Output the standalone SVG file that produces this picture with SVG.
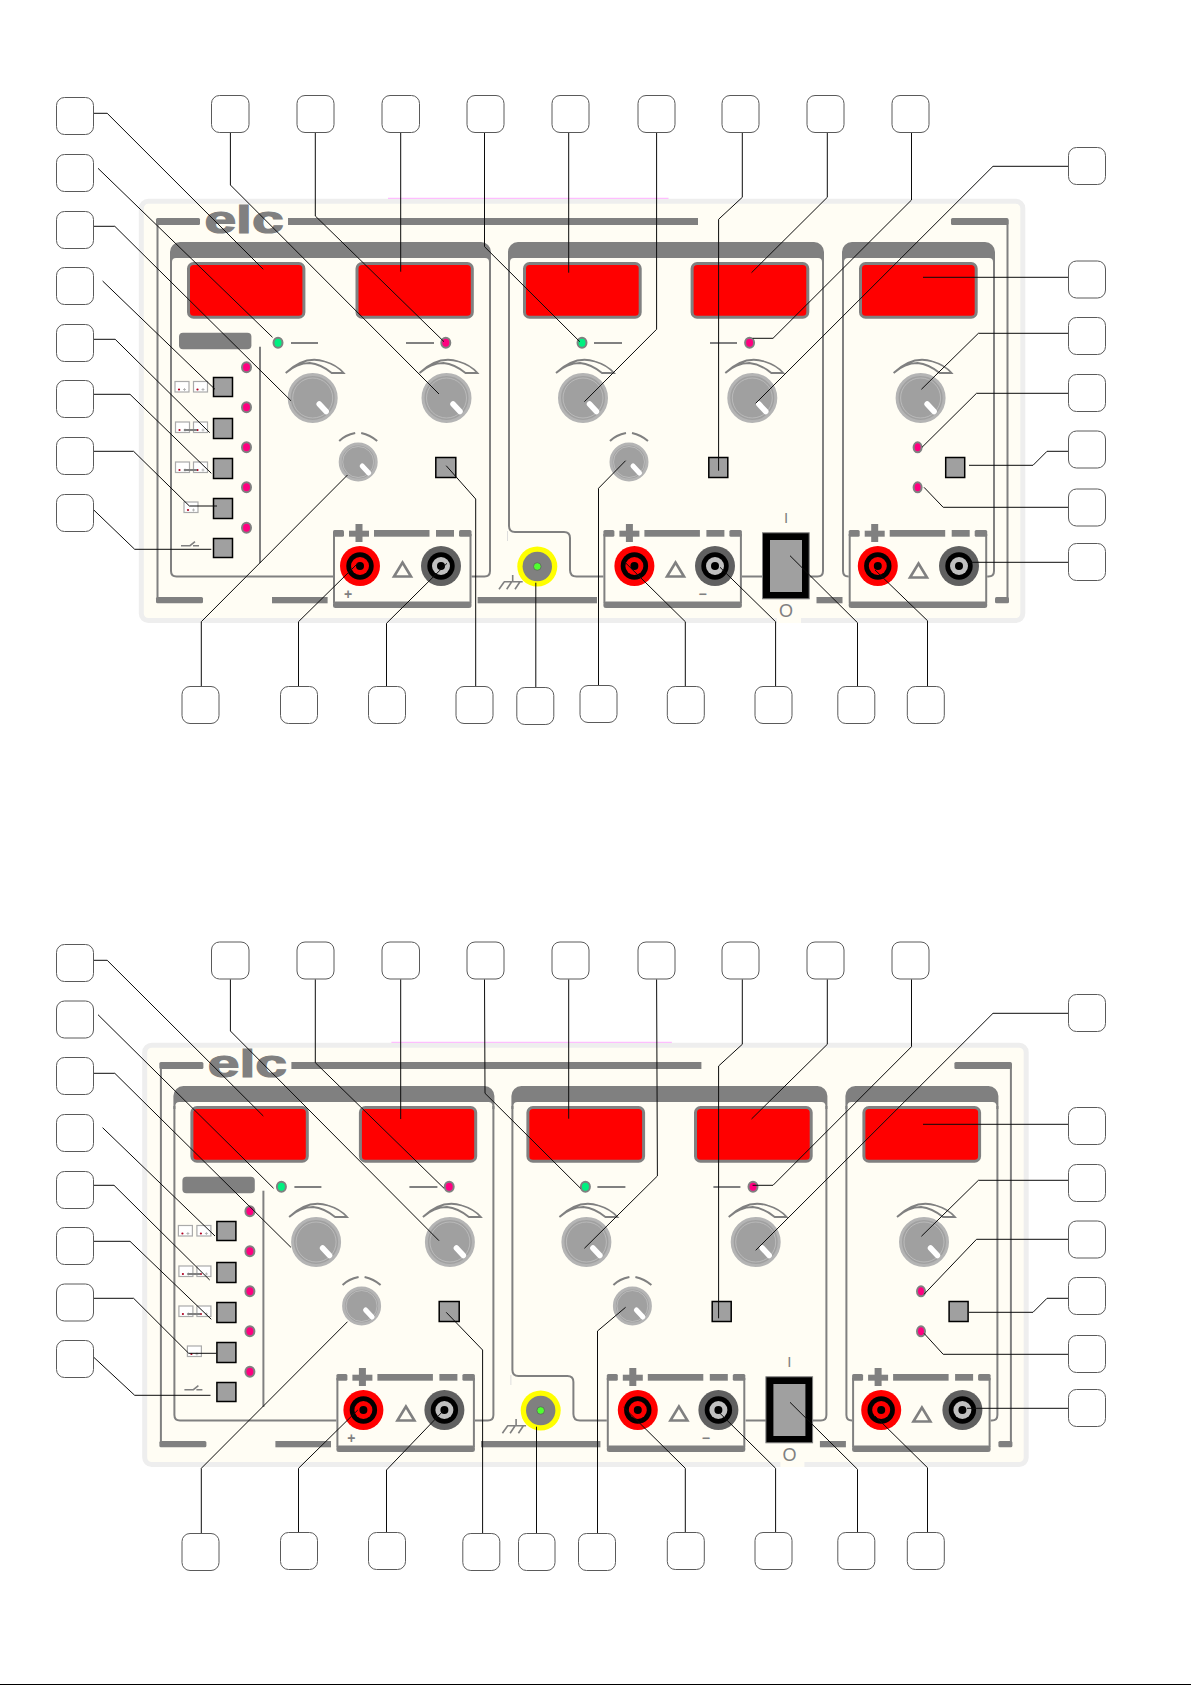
<svg xmlns="http://www.w3.org/2000/svg" xmlns:xlink="http://www.w3.org/1999/xlink" width="1191" height="1685" viewBox="0 0 1191 1685">
<style>
.lb{fill:#fff;stroke:#5a5a5a;stroke-width:1}
.c{fill:none;stroke:#0c0c0c;stroke-width:1}
.g{fill:#808080}
.l{fill:none;stroke:#808080;stroke-width:2}
.disp{fill:#f00;stroke:#808080;stroke-width:3}
.btn{fill:#a0a0a0;stroke:#000;stroke-width:1.5}
.pk{fill:#ff0080;stroke:#808080;stroke-width:2}
.gn{fill:#00f080;stroke:#808080;stroke-width:2}
.t{font-family:"Liberation Sans",Arial,sans-serif;fill:#808080;text-anchor:middle}
</style>
<defs>
<g id="knob"><circle r="23.5" fill="#a0a0a0" stroke="#b4b4b4" stroke-width="3"/><circle r="20" fill="none" stroke="#c4c4c4" stroke-width=".7"/><line x1="6.5" y1="6" x2="13.5" y2="13.5" stroke="#fff" stroke-width="5.5" stroke-linecap="round"/><path d="M-27-25Q-8-43 12-36.5Q24-33 31-25L19-25Q8-34-3-35Q-16-35-27-25Z" fill="#fffdf4" stroke="#808080" stroke-width="1.8"/></g>
<g id="sknob"><circle r="18" fill="#a0a0a0" stroke="#b4b4b4" stroke-width="3"/><circle r="15.5" fill="none" stroke="#c4c4c4" stroke-width=".7"/><line x1="4" y1="4" x2="10.5" y2="11" stroke="#fff" stroke-width="5" stroke-linecap="round"/><path d="M-19-21Q-13-27-3-29M3-29Q12-27 19-21" fill="none" stroke="#808080" stroke-width="2"/></g>
<g id="tr"><circle r="20" fill="#f00"/><circle r="13.7" fill="#000"/><circle r="9" fill="#f00"/><circle r="4" fill="#000"/></g>
<g id="tb"><circle r="20" fill="#606060"/><circle r="13.7" fill="#000"/><circle r="9" fill="#c0c0c0"/><circle r="4" fill="#000"/></g>
<g id="sb"><rect width="14" height="10.5" fill="#fff" stroke="#aaa" stroke-width="1.2"/><circle cx="4" cy="8" r="1.1" fill="#b00020"/><path d="M8 8h3M9.5 6.5v3" stroke="#aaa" stroke-width=".8"/></g>
<path id="tri" d="M9.5 2L18 16H1Z" fill="none" stroke="#808080" stroke-width="2.6"/>
<g id="tp"><rect width="138.5" height="78" fill="#fffdf4"/><path d="M1 4V73M137.5 4V73" stroke="#808080" stroke-width="2"/><rect y="71.5" width="138.5" height="6.5" rx="2.5" class="g"/><rect width="11" height="6.7" rx="1.5" class="g"/><rect x="41" width="55.5" height="6.7" class="g"/><rect x="103" width="18" height="6.7" class="g"/><rect x="126" width="12.5" height="6.7" rx="1.5" class="g"/><rect x="16" y=".7" width="20" height="6" class="g"/><rect x="22.5" y="-6" width="7" height="18" class="g"/></g>
<g id="body">
<rect x="141.3" y="201.2" width="881.5" height="419.3" rx="7" fill="#fffdf4" stroke="#eee" stroke-width="5"/>
<path d="M388 198.3H668.5" stroke="#ffb0ff" stroke-width="1"/>
<rect x="156" y="218" width="44" height="7" rx="1.5" class="g"/><rect x="288" y="218" width="410" height="7" class="g"/><rect x="951" y="218" width="57.5" height="7" rx="1.5" class="g"/>
<path d="M157.5 220V600M1007.5 220V600" class="l" stroke-width="2.5"/>
<rect x="156" y="597" width="47" height="6.3" rx="1.5" class="g"/><rect x="272" y="597" width="55.6" height="6.3" class="g"/><rect x="477.6" y="597" width="119.4" height="6.3" class="g"/><rect x="816.5" y="597" width="26" height="6.3" class="g"/><rect x="995" y="597" width="14" height="6.3" rx="1.5" class="g"/>
<path class="g" d="M170 265V252a10 10 0 0 1 10-10H481a10 10 0 0 1 10 10V265H489V262q0-4-4-4H176q-4 0-4 4V265Z"/>
<path class="g" d="M508 265V252a10 10 0 0 1 10-10H814a10 10 0 0 1 10 10V265H822V262q0-4-4-4H514q-4 0-4 4V265Z"/>
<path class="g" d="M842 265V252a10 10 0 0 1 10-10H985a10 10 0 0 1 10 10V265H993V262q0-4-4-4H848q-4 0-4 4V265Z"/>
<path class="l" d="M171 262V571q0 5.5 5.5 5.5H335M490 262V571q0 5.5-5.5 5.5H470"/>
<path class="l" d="M509 262V526q0 6 6 6H564q6 0 6 6V570q0 6.5 6.5 6.5H605M823 262V571q0 5.5-5.5 5.5H742"/>
<path class="l" d="M843 262V571q0 5.5 5.5 5.5H851M994 262V571q0 5.5-5.5 5.5H985"/>
<path d="M507.5 531V541" stroke="#ddd" stroke-width="1"/>
<rect x="188.5" y="263.5" width="115.4" height="53.7" rx="5" class="disp"/><rect x="357" y="263.5" width="115.3" height="53.7" rx="5" class="disp"/><rect x="524.5" y="263.5" width="115.7" height="53.7" rx="5" class="disp"/><rect x="692.1" y="263.5" width="115.7" height="53.7" rx="5" class="disp"/><rect x="860.5" y="263.5" width="115.7" height="53.7" rx="5" class="disp"/>
<rect x="179" y="332.7" width="72.4" height="16.6" rx="4" class="g"/>
<ellipse cx="278" cy="342.7" rx="4.5" ry="5" class="gn"/><ellipse cx="582" cy="342.7" rx="4.5" ry="5" class="gn"/>
<ellipse cx="445.8" cy="342.7" rx="4.5" ry="5" class="pk"/><ellipse cx="749.6" cy="342.7" rx="4.5" ry="5" class="pk"/>
<path class="l" d="M291 343H318M406 343H434M594 343H622M710 343H737"/>
<ellipse cx="246.5" cy="367.3" rx="4.5" ry="5" class="pk"/><ellipse cx="246.5" cy="407.3" rx="4.5" ry="5" class="pk"/><ellipse cx="246.5" cy="447.3" rx="4.5" ry="5" class="pk"/><ellipse cx="246.5" cy="487.3" rx="4.5" ry="5" class="pk"/><ellipse cx="246.5" cy="527.7" rx="4.5" ry="5" class="pk"/>
<ellipse cx="917.6" cy="447.3" rx="4" ry="5" class="pk"/><ellipse cx="917.6" cy="487.3" rx="4" ry="5" class="pk"/>
<path class="l" d="M260 346.7V563"/>
<use href="#sb" x="175" y="381.5"/><use href="#sb" x="193.5" y="381.5"/><use href="#sb" x="175.5" y="422"/><use href="#sb" x="193.5" y="422"/><use href="#sb" x="175.5" y="462"/><use href="#sb" x="193.5" y="462"/><use href="#sb" x="184" y="502"/>
<path class="l" d="M184 430H197M184 470H197"/>
<path d="M181 545.7H190L195 541.7M193 545.7H199" fill="none" stroke="#808080" stroke-width="1.6"/>
<rect x="213.5" y="377.5" width="19" height="19" class="btn"/><rect x="213.5" y="418.5" width="19" height="20" class="btn"/><rect x="213.5" y="458.5" width="19" height="20" class="btn"/><rect x="213.5" y="498.5" width="19" height="20" class="btn"/><rect x="213.5" y="538.5" width="19" height="19" class="btn"/>
<rect x="435.8" y="457.5" width="20" height="20" class="btn"/><rect x="708.8" y="457.5" width="19" height="20" class="btn"/><rect x="945.7" y="457.5" width="19" height="20" class="btn"/>
<use href="#knob" x="312.7" y="398"/><use href="#knob" x="446.5" y="398"/><use href="#knob" x="583" y="398"/><use href="#knob" x="752.3" y="398"/><use href="#knob" x="920.6" y="398"/>
<use href="#sknob" x="358.2" y="462"/><use href="#sknob" x="629" y="462"/>
<use href="#tp" x="333" y="530"/><use href="#tp" x="603.4" y="530"/><use href="#tp" x="848.7" y="530"/>
<use href="#tr" x="360" y="566"/><use href="#tb" x="441" y="566"/><use href="#tr" x="634.4" y="566"/><use href="#tb" x="715" y="566"/><use href="#tr" x="877.8" y="566"/><use href="#tb" x="959" y="566"/>
<use href="#tri" x="393" y="560.5"/><use href="#tri" x="666" y="560.5"/><use href="#tri" x="909" y="561.5"/>
<circle cx="537.3" cy="566.5" r="20" fill="#ff0"/><circle cx="537.3" cy="566.5" r="14.7" fill="#808080"/><circle cx="537.3" cy="566.5" r="3.8" fill="#50ff30" stroke="#606060" stroke-width=".8"/>
<path d="M512.7 575V581.7M504 581.7H522.7M504.3 581.7L499 589.3M511.7 581.7L506.7 589.3M520 581.7L515 589.3" fill="none" stroke="#808080" stroke-width="1.6"/>
<rect x="762.5" y="532.8" width="46.7" height="66" fill="#000" stroke="#808080" stroke-width="1"/><rect x="770" y="540" width="32" height="52" fill="#a0a0a0"/>
<rect x="777" y="612" width="24" height="11" fill="#fffdf4"/>
</g>
</defs>
<rect id="edge-line" x="0" y="1684" width="1191" height="1" fill="#000"/>
<g id="panel-a">
<use href="#body"/>
<text class="t" font-weight="bold" font-size="38" stroke="#808080" stroke-width="1.2" transform="translate(244,233) scale(1.5,1)">elc</text>
<text class="t" font-weight="bold" font-size="14" x="348" y="598.8">+</text>
<text class="t" font-weight="bold" font-size="14" x="702.5" y="598.8">−</text>
<text class="t" font-size="15" x="786" y="522.7">I</text>
<text class="t" font-size="18" x="786" y="617">O</text>
</g>
<g id="panel-b" transform="translate(3.4,844)">
<use href="#body"/>
<text class="t" font-weight="bold" font-size="38" stroke="#808080" stroke-width="1.2" transform="translate(244,233) scale(1.5,1)">elc</text>
<text class="t" font-weight="bold" font-size="14" x="348" y="598.8">+</text>
<text class="t" font-weight="bold" font-size="14" x="702.5" y="598.8">−</text>
<text class="t" font-size="15" x="786" y="522.7">I</text>
<text class="t" font-size="18" x="786" y="617">O</text>
</g>
<g id="connectors">
<polyline class="c" points="93.8,113.3 107.2,113.3 263.3,269.3"/>
<polyline class="c" points="98,168.3 272.5,337.3"/>
<polyline class="c" points="93.8,226.3 114.8,226.3 290.9,400.7"/>
<polyline class="c" points="102.6,281 215,389.3"/>
<polyline class="c" points="93.8,339.3 115.2,339.3 209.7,432.7"/>
<polyline class="c" points="93.8,394.3 130,394.3 211.3,473.3"/>
<polyline class="c" points="93.8,451.3 133.6,451.3 189.4,506 217,506"/>
<polyline class="c" points="93.8,510 134.7,549.3 211.3,549.3"/>
<polyline class="c" points="230.4,132.3 230.4,185 439,394"/>
<polyline class="c" points="315.3,132.3 315.3,216 444,341.7"/>
<polyline class="c" points="400.7,132.3 400.7,271.7"/>
<polyline class="c" points="484.5,132.3 484.5,246.7 579.8,341.7"/>
<polyline class="c" points="568.7,132.3 568.7,272.7"/>
<polyline class="c" points="656.6,132.3 656.6,329.3 584.4,401.7"/>
<polyline class="c" points="742.3,132.3 742.3,197.3 718.6,219.3 718.6,470.7"/>
<polyline class="c" points="827.3,132.3 827.3,197.3 751.5,272.7"/>
<polyline class="c" points="911.5,132.3 911.5,200 773,338.3 752.6,338.3"/>
<polyline class="c" points="1068.4,166.3 993,166.3 755.7,403.3"/>
<polyline class="c" points="1068.4,277.3 923,277.3"/>
<polyline class="c" points="1068.4,333.3 978.4,333.3 921.4,389.3"/>
<polyline class="c" points="1068.4,393.3 976.5,393.3 922,447.3"/>
<polyline class="c" points="1068.4,451.3 1047,451.3 1033,465.3 969,465.3"/>
<polyline class="c" points="1068.4,507.3 943.2,507.3 924,487.3"/>
<polyline class="c" points="1068.4,562.3 967,562.3"/>
<polyline class="c" points="201.3,686.3 201.3,621.7 347.5,475"/>
<polyline class="c" points="298.5,686.3 298.5,621.7 357.8,563.3"/>
<polyline class="c" points="386.5,686.3 386.5,623.3 447,563.3"/>
<polyline class="c" points="475.7,686.3 475.7,499 446.2,465.7"/>
<polyline class="c" points="535.8,687.3 535.8,582.7"/>
<polyline class="c" points="598.5,685 598.5,488.3 625.6,460.7"/>
<polyline class="c" points="685.3,686.3 685.3,621.7 623.7,561"/>
<polyline class="c" points="775.6,686.3 775.6,621.7 720,567.3"/>
<polyline class="c" points="857.5,686.3 857.5,622.7 790,555.7"/>
<polyline class="c" points="927.5,686.3 927.5,620.7 875,570"/>
<polyline class="c" points="93.8,960.3 107.2,960.3 263.3,1116"/>
<polyline class="c" points="98,1014.7 273.6,1188.3"/>
<polyline class="c" points="93.8,1073.3 114.8,1073.3 290.9,1247.3"/>
<polyline class="c" points="102.6,1127.7 215,1236"/>
<polyline class="c" points="93.8,1185.3 114,1185.3 209.7,1280"/>
<polyline class="c" points="93.8,1241.3 130,1241.3 211.3,1319.3"/>
<polyline class="c" points="93.8,1298.3 133.6,1298.3 188.7,1353.3 216.2,1353.3"/>
<polyline class="c" points="93.8,1357.3 134.7,1395.3 210.5,1395.3"/>
<polyline class="c" points="230.4,979.3 230.4,1031 439,1240.7"/>
<polyline class="c" points="315.3,979.3 315.3,1062.7 444,1188.3"/>
<polyline class="c" points="400.7,979.3 400.7,1119"/>
<polyline class="c" points="484.5,979.3 485,1093.3 580.5,1188.3"/>
<polyline class="c" points="568.7,979.3 568.7,1118.7"/>
<polyline class="c" points="656.6,979.3 657.4,1176 584.4,1248.3"/>
<polyline class="c" points="742.3,979.3 742.3,1044.3 718.6,1066 718.6,1318.3"/>
<polyline class="c" points="827.3,979.3 827.3,1044.3 751.5,1119"/>
<polyline class="c" points="911.5,979.3 911.5,1046.7 773,1185.3 752.6,1185.3"/>
<polyline class="c" points="1068.4,1013.3 993,1013.3 755.7,1250.3"/>
<polyline class="c" points="1068.4,1124.3 923,1124.3"/>
<polyline class="c" points="1068.4,1180.3 978.4,1180.3 921.4,1236.3"/>
<polyline class="c" points="1068.4,1239.3 976.5,1239.3 924,1294.3"/>
<polyline class="c" points="1068.4,1298.3 1047,1298.3 1033,1312.3 969,1312.3"/>
<polyline class="c" points="1068.4,1354.3 943.2,1354.3 924,1333.3"/>
<polyline class="c" points="1068.4,1408.3 967,1408.3"/>
<polyline class="c" points="201.3,1533.3 201.3,1468.3 347.5,1321.7"/>
<polyline class="c" points="298.5,1532.7 298.5,1468.3 357.8,1410"/>
<polyline class="c" points="386.5,1532.7 386.5,1470 444,1410"/>
<polyline class="c" points="482.6,1533.3 482.6,1350 446.2,1312.3"/>
<polyline class="c" points="536.5,1533.3 536.5,1426.7"/>
<polyline class="c" points="597.5,1533.3 597.5,1331 625.6,1307.3"/>
<polyline class="c" points="685.3,1532.7 685.3,1468.3 623.7,1407.3"/>
<polyline class="c" points="775.6,1532.7 775.6,1468.3 720,1413.3"/>
<polyline class="c" points="857.5,1532.7 857.5,1469.3 790,1402.3"/>
<polyline class="c" points="927.5,1532.7 927.5,1467.7 875,1416"/>
</g>
<g id="labels-a">
<g id="a-l1"><rect class="lb" x="56.5" y="97.5" width="37" height="37" rx="8"/></g>
<g id="a-l2"><rect class="lb" x="56.5" y="154.5" width="37" height="37" rx="8"/></g>
<g id="a-l3"><rect class="lb" x="56.5" y="211.5" width="37" height="37" rx="8"/></g>
<g id="a-l4"><rect class="lb" x="56.5" y="267.5" width="37" height="37" rx="8"/></g>
<g id="a-l5"><rect class="lb" x="56.5" y="324.5" width="37" height="37" rx="8"/></g>
<g id="a-l6"><rect class="lb" x="56.5" y="380.5" width="37" height="37" rx="8"/></g>
<g id="a-l7"><rect class="lb" x="56.5" y="437.5" width="37" height="37" rx="8"/></g>
<g id="a-l8"><rect class="lb" x="56.5" y="494.5" width="37" height="37" rx="8"/></g>
<g id="a-t1"><rect class="lb" x="211.5" y="95.5" width="37.5" height="37" rx="8"/></g>
<g id="a-t2"><rect class="lb" x="297" y="95.5" width="37" height="37" rx="8"/></g>
<g id="a-t3"><rect class="lb" x="382" y="95.5" width="37.5" height="37" rx="8"/></g>
<g id="a-t4"><rect class="lb" x="467" y="95.5" width="37" height="37" rx="8"/></g>
<g id="a-t5"><rect class="lb" x="552" y="95.5" width="37" height="37" rx="8"/></g>
<g id="a-t6"><rect class="lb" x="638" y="95.5" width="37" height="37" rx="8"/></g>
<g id="a-t7"><rect class="lb" x="722" y="95.5" width="37" height="37" rx="8"/></g>
<g id="a-t8"><rect class="lb" x="807" y="95.5" width="37" height="37" rx="8"/></g>
<g id="a-t9"><rect class="lb" x="892" y="95.5" width="37" height="37" rx="8"/></g>
<g id="a-r1"><rect class="lb" x="1068.5" y="147.5" width="37" height="37" rx="8"/></g>
<g id="a-r2"><rect class="lb" x="1068.5" y="261" width="37" height="37" rx="8"/></g>
<g id="a-r3"><rect class="lb" x="1068.5" y="317.5" width="37" height="37" rx="8"/></g>
<g id="a-r4"><rect class="lb" x="1068.5" y="374.5" width="37" height="37" rx="8"/></g>
<g id="a-r5"><rect class="lb" x="1068.5" y="431" width="37" height="37" rx="8"/></g>
<g id="a-r6"><rect class="lb" x="1068.5" y="489" width="37" height="37" rx="8"/></g>
<g id="a-r7"><rect class="lb" x="1068.5" y="543.5" width="37" height="37" rx="8"/></g>
<g id="a-b1"><rect class="lb" x="182" y="686.5" width="37" height="37" rx="8"/></g>
<g id="a-b2"><rect class="lb" x="280.5" y="686.5" width="37" height="37" rx="8"/></g>
<g id="a-b3"><rect class="lb" x="368.5" y="686.5" width="37" height="37" rx="8"/></g>
<g id="a-b4"><rect class="lb" x="456" y="686.5" width="37" height="37" rx="8"/></g>
<g id="a-b5"><rect class="lb" x="516.8" y="687.5" width="37" height="37" rx="8"/></g>
<g id="a-b6"><rect class="lb" x="580" y="685.5" width="37" height="37" rx="8"/></g>
<g id="a-b7"><rect class="lb" x="667.3" y="686.5" width="37" height="37" rx="8"/></g>
<g id="a-b8"><rect class="lb" x="755" y="686.5" width="37" height="37" rx="8"/></g>
<g id="a-b9"><rect class="lb" x="837.8" y="686.5" width="37" height="37" rx="8"/></g>
<g id="a-b10"><rect class="lb" x="907.3" y="686.5" width="37" height="37" rx="8"/></g>
</g>
<g id="labels-b">
<g id="b-l1"><rect class="lb" x="56.5" y="944.5" width="37" height="37" rx="8"/></g>
<g id="b-l2"><rect class="lb" x="56.5" y="1001" width="37" height="37" rx="8"/></g>
<g id="b-l3"><rect class="lb" x="56.5" y="1057.5" width="37" height="37" rx="8"/></g>
<g id="b-l4"><rect class="lb" x="56.5" y="1114.5" width="37" height="37" rx="8"/></g>
<g id="b-l5"><rect class="lb" x="56.5" y="1171.5" width="37" height="37" rx="8"/></g>
<g id="b-l6"><rect class="lb" x="56.5" y="1227.5" width="37" height="37" rx="8"/></g>
<g id="b-l7"><rect class="lb" x="56.5" y="1284" width="37" height="37" rx="8"/></g>
<g id="b-l8"><rect class="lb" x="56.5" y="1340.5" width="37" height="37" rx="8"/></g>
<g id="b-t1"><rect class="lb" x="211.5" y="942" width="37.5" height="37" rx="8"/></g>
<g id="b-t2"><rect class="lb" x="297" y="942" width="37" height="37" rx="8"/></g>
<g id="b-t3"><rect class="lb" x="382" y="942" width="37.5" height="37" rx="8"/></g>
<g id="b-t4"><rect class="lb" x="467" y="942" width="37" height="37" rx="8"/></g>
<g id="b-t5"><rect class="lb" x="552" y="942" width="37" height="37" rx="8"/></g>
<g id="b-t6"><rect class="lb" x="638" y="942" width="37" height="37" rx="8"/></g>
<g id="b-t7"><rect class="lb" x="722" y="942" width="37" height="37" rx="8"/></g>
<g id="b-t8"><rect class="lb" x="807" y="942" width="37" height="37" rx="8"/></g>
<g id="b-t9"><rect class="lb" x="892" y="942" width="37" height="37" rx="8"/></g>
<g id="b-r1"><rect class="lb" x="1068.5" y="994.5" width="37" height="37" rx="8"/></g>
<g id="b-r2"><rect class="lb" x="1068.5" y="1107.5" width="37" height="37" rx="8"/></g>
<g id="b-r3"><rect class="lb" x="1068.5" y="1164.5" width="37" height="37" rx="8"/></g>
<g id="b-r4"><rect class="lb" x="1068.5" y="1221" width="37" height="37" rx="8"/></g>
<g id="b-r5"><rect class="lb" x="1068.5" y="1277.5" width="37" height="37" rx="8"/></g>
<g id="b-r6"><rect class="lb" x="1068.5" y="1335.5" width="37" height="37" rx="8"/></g>
<g id="b-r7"><rect class="lb" x="1068.5" y="1389.5" width="37" height="37" rx="8"/></g>
<g id="b-b1"><rect class="lb" x="182" y="1533.5" width="37" height="37" rx="8"/></g>
<g id="b-b2"><rect class="lb" x="280.5" y="1532.5" width="37" height="37" rx="8"/></g>
<g id="b-b3"><rect class="lb" x="368.5" y="1532.5" width="37" height="37" rx="8"/></g>
<g id="b-b4"><rect class="lb" x="462.8" y="1533.5" width="37" height="37" rx="8"/></g>
<g id="b-b5"><rect class="lb" x="518.5" y="1533.5" width="36.5" height="37" rx="8"/></g>
<g id="b-b6"><rect class="lb" x="578.5" y="1533.5" width="37" height="37" rx="8"/></g>
<g id="b-b7"><rect class="lb" x="667.3" y="1532.5" width="37" height="37" rx="8"/></g>
<g id="b-b8"><rect class="lb" x="755" y="1532.5" width="37" height="37" rx="8"/></g>
<g id="b-b9"><rect class="lb" x="837.8" y="1532.5" width="37" height="37" rx="8"/></g>
<g id="b-b10"><rect class="lb" x="907.3" y="1532.5" width="37" height="37" rx="8"/></g>
</g>
</svg>
